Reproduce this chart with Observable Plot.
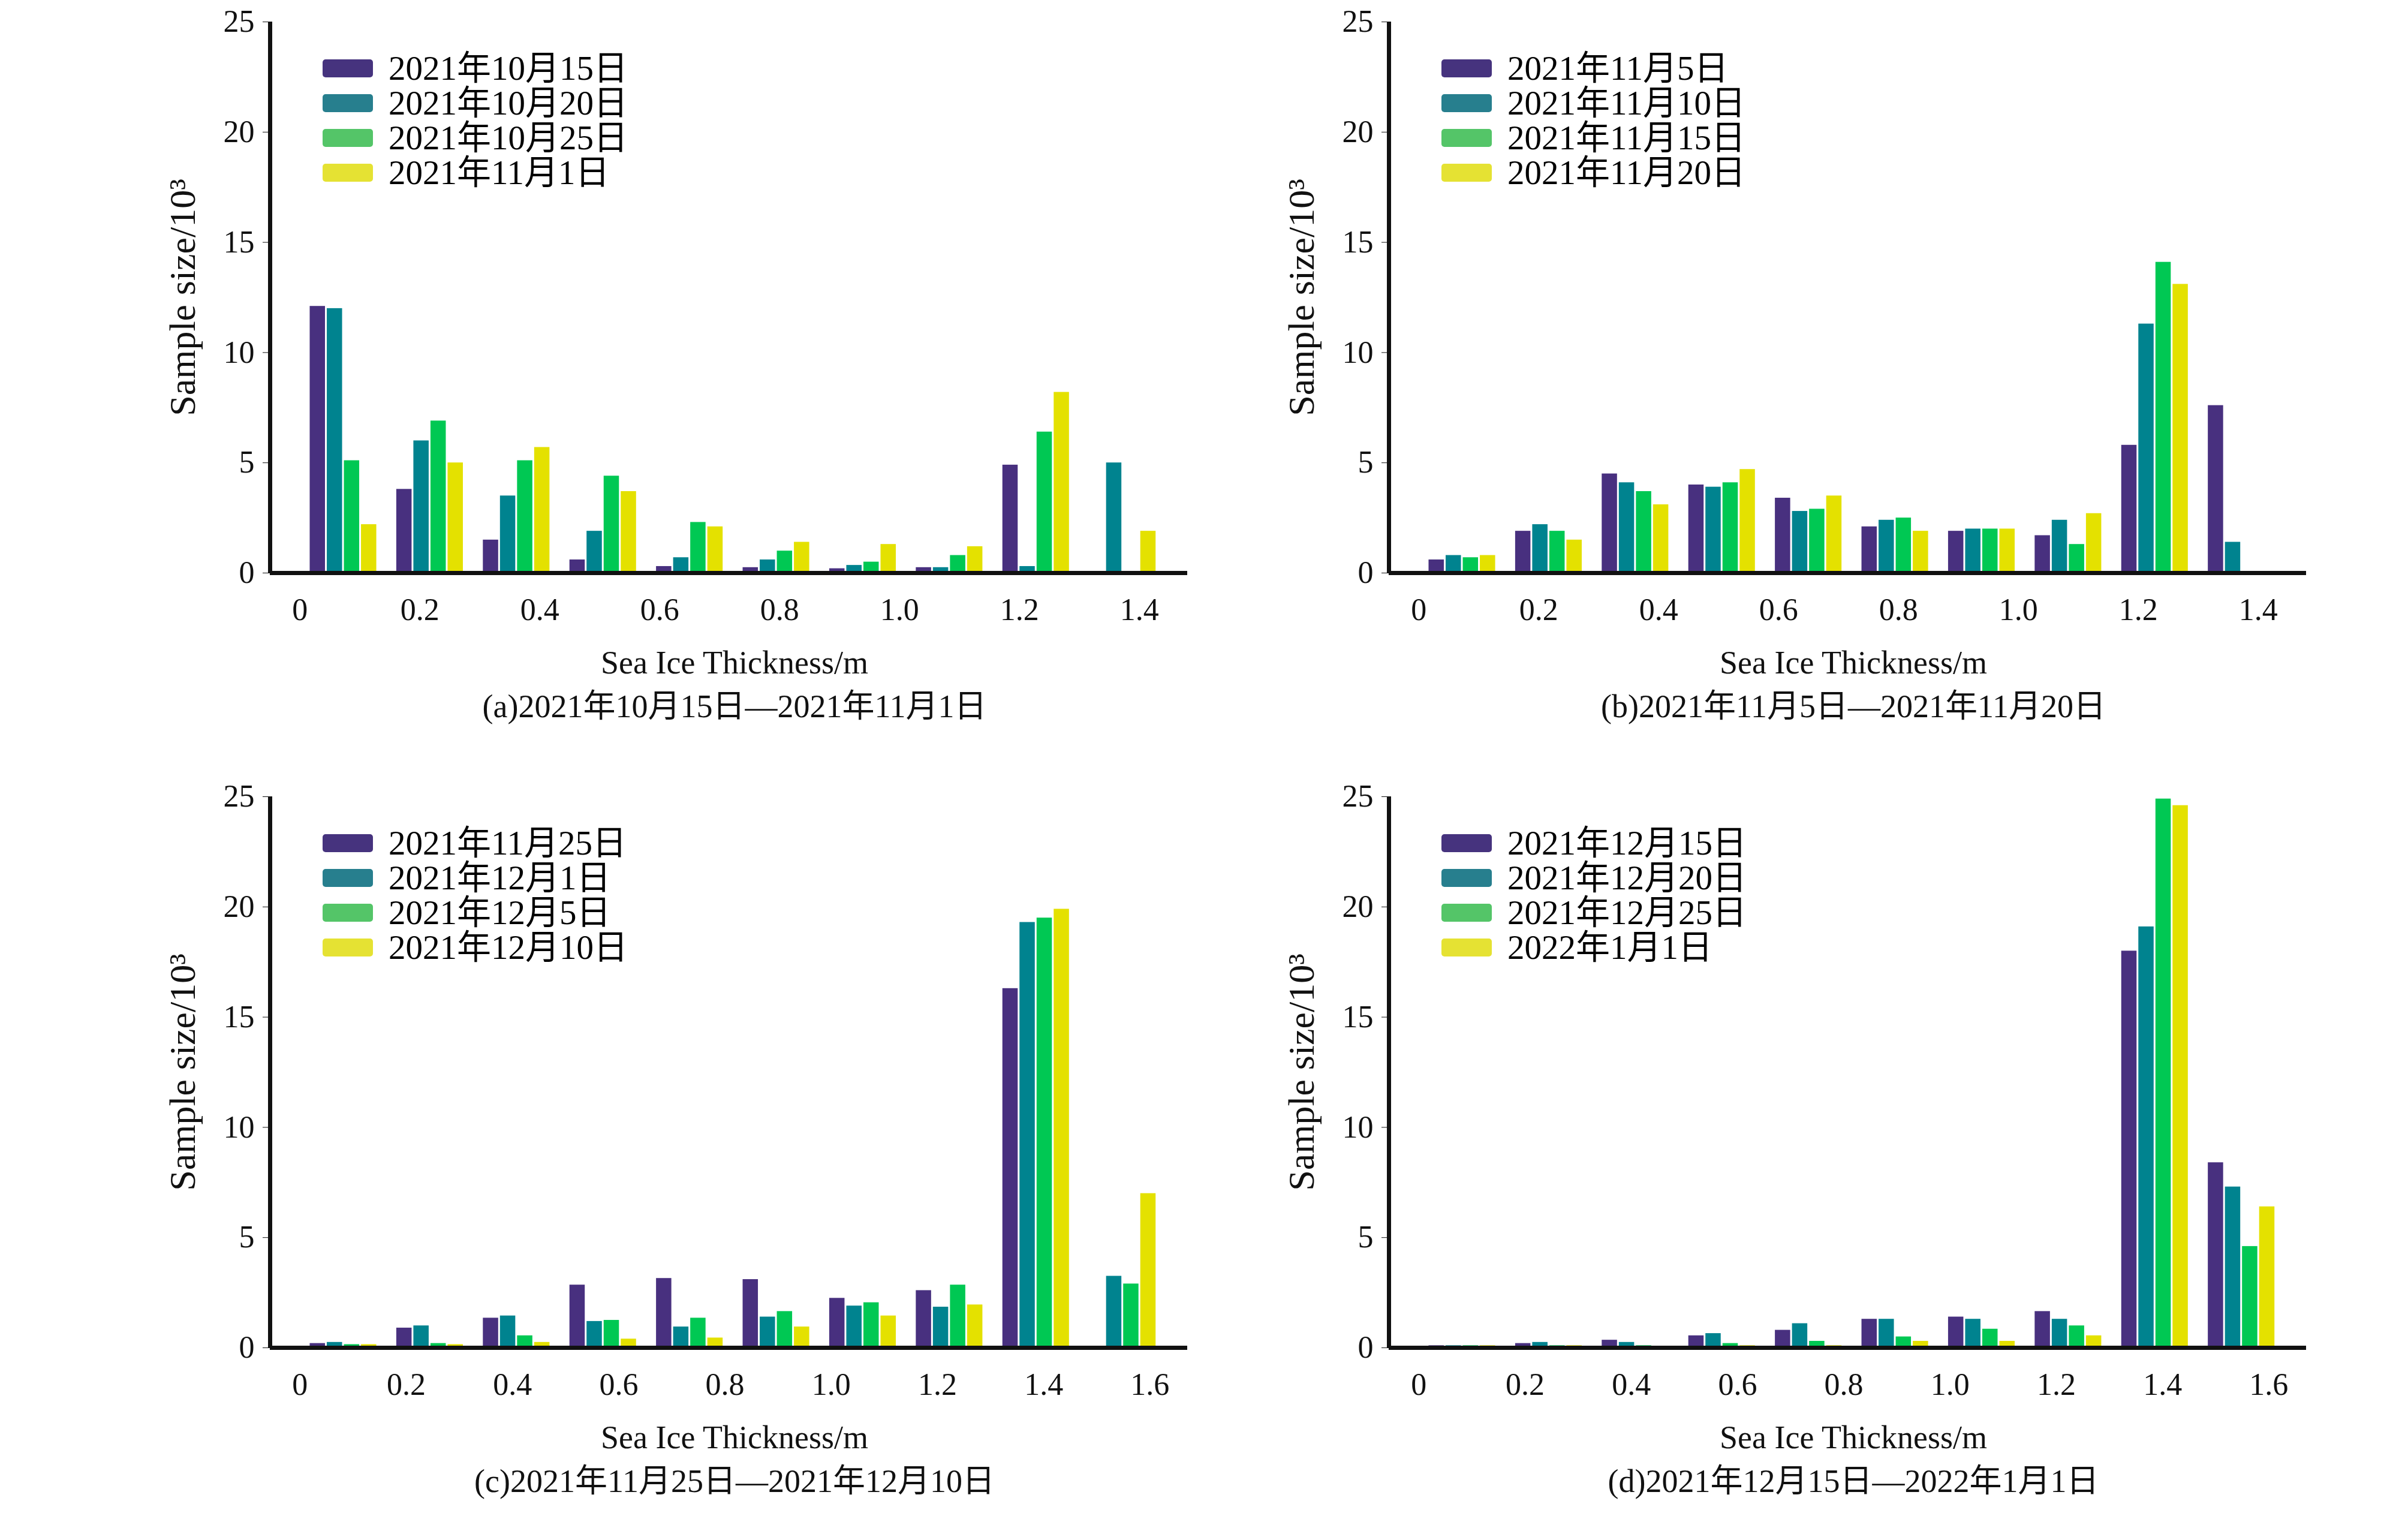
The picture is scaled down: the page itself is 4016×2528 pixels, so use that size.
<!DOCTYPE html>
<html><head><meta charset="utf-8">
<script src="https://cdn.jsdelivr.net/npm/d3@7"></script>
<script src="https://cdn.jsdelivr.net/npm/@observablehq/plot@0.6"></script>
<style>
body{margin:0;background:#fff;width:4016px;height:2528px;position:relative;overflow:hidden;font-family:"Liberation Serif","Noto Sans CJK SC",serif;}
.p{position:absolute;}
.t{position:absolute;font-size:54px;line-height:60px;color:#111;white-space:nowrap;transform:translateX(-50%);font-family:"Liberation Serif","Noto Sans CJK SC",serif;}
.lg{position:absolute;font-size:57px;line-height:58px;font-family:"Liberation Serif","Noto Sans CJK SC",serif;}
.lg div{display:flex;align-items:center;height:58px;}
.lg span.s{display:inline-block;width:84px;height:30px;border-radius:5px;margin-right:26px;}
g[aria-label="y-axis label"] text{font-size:62px;}
</style></head><body>
<script>
const legendA = ["2021年10月15日","2021年10月20日","2021年10月25日","2021年11月1日"];
const legendB = ["2021年11月5日","2021年11月10日","2021年11月15日","2021年11月20日"];
const legendC = ["2021年11月25日","2021年12月1日","2021年12月5日","2021年12月10日"];
const legendD = ["2021年12月15日","2021年12月20日","2021年12月25日","2022年1月1日"];
const captions = ["(a)2021年10月15日—2021年11月1日","(b)2021年11月5日—2021年11月20日","(c)2021年11月25日—2021年12月10日","(d)2021年12月15日—2022年1月1日"];
const ticksAB = [0,0.2,0.4,0.6,0.8,1.0,1.2,1.4];
const ticksCD = [0,0.2,0.4,0.6,0.8,1.0,1.2,1.4,1.6];
// each series: values for 10 thickness groups
const valsA = [
 [12.1,3.8,1.5,0.6,0.3,0.25,0.2,0.25,4.9,0],
 [12.0,6.0,3.5,1.9,0.7,0.6,0.35,0.25,0.3,5.0],
 [5.1,6.9,5.1,4.4,2.3,1.0,0.5,0.8,6.4,0],
 [2.2,5.0,5.7,3.7,2.1,1.4,1.3,1.2,8.2,1.9]];
const valsB = [
 [0.6,1.9,4.5,4.0,3.4,2.1,1.9,1.7,5.8,7.6],
 [0.8,2.2,4.1,3.9,2.8,2.4,2.0,2.4,11.3,1.4],
 [0.7,1.9,3.7,4.1,2.9,2.5,2.0,1.3,14.1,0],
 [0.8,1.5,3.1,4.7,3.5,1.9,2.0,2.7,13.1,0]];
const valsC = [
 [0.2,0.9,1.35,2.85,3.15,3.1,2.25,2.6,16.3,0],
 [0.25,1.0,1.45,1.2,0.95,1.4,1.9,1.85,19.3,3.25],
 [0.15,0.2,0.55,1.25,1.35,1.65,2.05,2.85,19.5,2.9],
 [0.15,0.15,0.25,0.4,0.45,0.95,1.45,1.95,19.9,7.0]];
const valsD = [
 [0.1,0.2,0.35,0.55,0.8,1.3,1.4,1.65,18.0,8.4],
 [0.1,0.25,0.25,0.65,1.1,1.3,1.3,1.3,19.1,7.3],
 [0.1,0.1,0.1,0.2,0.3,0.5,0.85,1.0,24.9,4.6],
 [0.1,0.1,0.05,0.1,0.1,0.3,0.3,0.55,24.6,6.4]];
const barColors = ["#48307f","#00838f","#00c853","#e4e100"];
const swatchColors = ["#46337e","#277f8e","#54c568","#e5e233"];

const FW = 1530, FH = 919, ML = 220, MR = 20, MT = 40, MB = 110;
function panel(vals, ticks, stepPerTenth, legend, caption, left, top) {
  const data = [];
  vals.forEach((ser, s) => ser.forEach((v, g) => data.push({g, s, v})));
  const bw = 0.1975;
  const pos = t => -0.5 + t / 0.2 * stepPerTenth;
  const chart = Plot.plot({
    width: FW + ML + MR, height: FH + MT + MB,
    marginLeft: ML, marginRight: MR, marginTop: MT, marginBottom: MB,
    style: {fontFamily: "Liberation Serif, serif", fontSize: "52px", color: "#111"},
    x: {domain: [-0.845, 9.75], ticks: ticks.map(pos), tickFormat: (d, i) => ticks[i] === 0 ? "0" : ticks[i].toFixed(1), tickSize: 0, tickPadding: 42, label: null},
    y: {domain: [0, 25], ticks: [0,5,10,15,20,25], tickSize: 12, tickPadding: 14, label: "Sample size/10³", labelAnchor: "center", labelArrow: "none", labelOffset: 170},
    marks: [
      Plot.rectY(data, {x1: d => d.g - 0.395 + d.s * bw, x2: d => d.g - 0.395 + (d.s + 1) * bw, y1: 0, y2: "v", fill: d => barColors[d.s], insetLeft: 1.5, insetRight: 1.5}),
      Plot.ruleX([-0.845], {strokeWidth: 7}),
      Plot.ruleY([0], {strokeWidth: 7})
    ]
  });
  const wrap = document.createElement("div");
  wrap.className = "p";
  wrap.style.left = (left - ML) + "px"; wrap.style.top = (top - MT) + "px";
  wrap.appendChild(chart);
  document.body.appendChild(wrap);
  const lg = document.createElement("div");
  lg.className = "lg";
  lg.style.left = (left + 88) + "px"; lg.style.top = (top + 49) + "px";
  legend.forEach((t, i) => {
    const r = document.createElement("div");
    r.innerHTML = `<span class="s" style="background:${swatchColors[i]}"></span>${t}`;
    lg.appendChild(r);
  });
  document.body.appendChild(lg);
  const xt = document.createElement("div");
  xt.className = "t"; xt.textContent = "Sea Ice Thickness/m";
  xt.style.left = (left + 775) + "px"; xt.style.top = (top + FH + 120) + "px";
  document.body.appendChild(xt);
  const cp = document.createElement("div");
  cp.className = "t"; cp.textContent = caption;
  cp.style.left = (left + 775) + "px"; cp.style.top = (top + FH + 193) + "px";
  document.body.appendChild(cp);
}
panel(valsA, ticksAB, 1.385, legendA, captions[0], 450, 36);
panel(valsB, ticksAB, 1.385, legendB, captions[1], 2316, 36);
panel(valsC, ticksCD, 1.227, legendC, captions[2], 450, 1328);
panel(valsD, ticksCD, 1.227, legendD, captions[3], 2316, 1328);
</script>
</body></html>
